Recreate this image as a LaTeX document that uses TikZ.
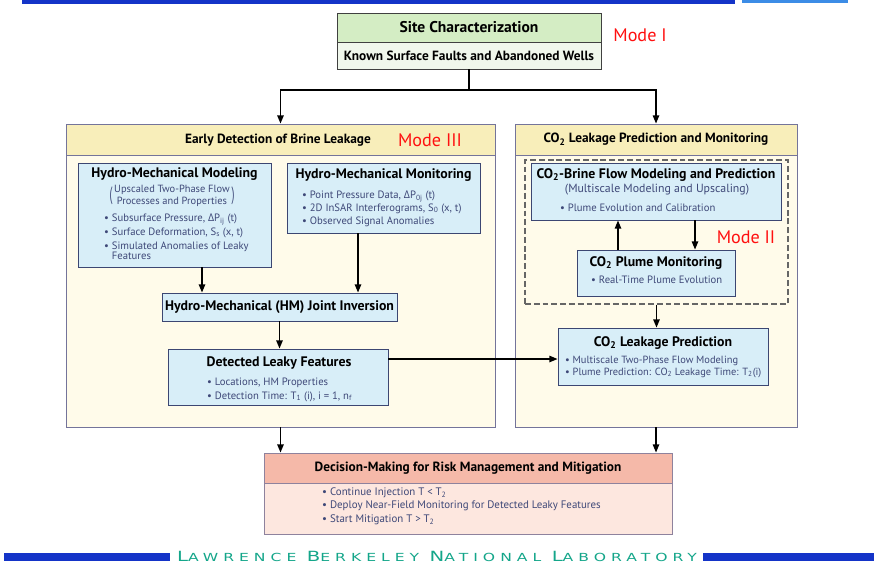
\documentclass[tikz,border=0pt]{standalone}
\usepackage{fontspec}
\setmainfont{PT Sans}
\newfontfamily\grk{Open Sans}
\newfontfamily\labfont[FakeStretch=1.4,LetterSpace=45]{DejaVu Sans}
\usepackage{xcolor}
\usepackage{tikz}
\usetikzlibrary{arrows.meta,positioning,calc}
\definecolor{lbblue}{HTML}{1434C8}
\definecolor{lbsky}{HTML}{3C8CE6}
\definecolor{lbtext}{HTML}{14A68A}
\definecolor{frame}{HTML}{74749A}
\definecolor{inframe}{HTML}{3C4672}
\definecolor{sitehd}{HTML}{D4EDC4}
\definecolor{sitebd}{HTML}{F0F7EC}
\definecolor{bighd}{HTML}{F8EEBA}
\definecolor{bigbd}{HTML}{FFFBEA}
\definecolor{inbg}{HTML}{D8EEF8}
\definecolor{dechd}{HTML}{F5B9A9}
\definecolor{decbd}{HTML}{FDE7DF}
\definecolor{itemc}{HTML}{3E4878}
\definecolor{modec}{HTML}{FF1010}
\tikzset{
  sz/.style 2 args={minimum width=#1*0.03cm, minimum height=#2*0.03cm},
  hdr/.style   ={draw=frame, line width=0.8pt, inner sep=0pt, text=black,
                 font=\fontsize{11.4}{13}\selectfont\bfseries},
  inbox/.style ={draw=inframe, line width=0.8pt, fill=inbg, inner sep=0pt},
  dashbox/.style={draw=black!60, line width=0.9pt, dash pattern=on 5pt off 2.5pt, inner sep=0pt},
  ttl/.style   ={font=\fontsize{11.8}{13}\selectfont\bfseries, text=black, inner sep=0pt},
  sub/.style   ={font=\fontsize{8.9}{9.8}\selectfont, text=itemc, inner sep=0pt, align=center},
  itm/.style   ={font=\fontsize{9.1}{11}\selectfont, text=itemc, inner sep=0pt,
                 align=left, anchor=north west},
  mode/.style  ={font=\fontsize{15.5}{16}\selectfont, text=modec, inner sep=0pt},
  fl/.style    ={draw=black, line width=1.2pt, -{Stealth[length=7pt,width=5.5pt,inset=0pt]}},
  lab/.style   ={font=\labfont, text=lbtext, inner sep=0pt},
}
\newcommand{\labword}[2]{{\fontsize{12}{12}\selectfont#1}{\fontsize{9.5}{10}\selectfont#2}}
\newcommand{\dP}{{\grk Δ}P}
\newcommand{\tallpar}[1]{$\vcenter{\hbox{\scalebox{1}[1.85]{#1}}}$}

\begin{document}
\begin{tikzpicture}[x=0.03cm,y=-0.03cm]
  \useasboundingbox[fill=white] (0,0) rectangle (874,574);
  % laboratory banners
  \fill[lbblue] (22,0) rectangle (735,4);
  \fill[lbsky] (742,0) rectangle (848,3);
  \fill[lbblue] (4,552.5) rectangle (170,560.5);
  \fill[lbblue] (703,552.5) rectangle (874,560.5);
  \node[lab,anchor=base] (lbnl) at (437,561.5) {\labword{L}{AWRENCE} \labword{B}{ERKELEY} \labword{N}{ATIONAL} \labword{L}{ABORATORY}};

  % Mode I
  \node[hdr,sz={264}{29},draw=black!75,fill=sitehd,font=\fontsize{13.3}{14}\selectfont\bfseries] (siteH) at (469,27.5) {Site Characterization};
  \node[hdr,sz={264}{27},draw=black!75,fill=sitebd] (siteB) at (469,55.5) {Known Surface Faults and Abandoned Wells};
  \node[mode] (modeI) at (640,35) {Mode I};

  % big panels
  \node[hdr,sz={429}{272},fill=bigbd] (earlyB) at (280.5,291) {};
  \node[hdr,sz={429}{31},fill=bighd] (earlyH) at (280.5,139.5) {};
  \node[hdr,draw=none,fill=none] (earlyT) at (278,140) {Early Detection of Brine Leakage};
  \node[mode] (modeIII) at (430,140) {Mode III};
  \node[hdr,sz={282}{272},fill=bigbd] (predB) at (656,291) {};
  \node[hdr,sz={282}{31},fill=bighd] (predH) at (656,139.5) {CO\textsubscript{2} Leakage Prediction and Monitoring};

  % Mode III
  \node[inbox,sz={193}{104}] (hmmod) at (174.5,215) {};
  \node[ttl] (hmmodT) at (174.5,174.5) {Hydro-Mechanical Modeling};
  \node[sub] (hmmodP) at (172,196) {\tallpar{(}\,\begin{tabular}{@{}c@{}}Upscaled Two-Phase Flow\\Processes and Properties\end{tabular}\,\tallpar{)}};
  \node[itm,font=\fontsize{9.1}{11.9}\selectfont] (hmmodL) at (104,213.5) {• Subsurface Pressure, \dP\textsubscript{ij} (t)\\
    • Surface Deformation, S\textsubscript{s} (x, t)\\
    • Simulated Anomalies of Leaky\\[-3.4pt]
    \phantom{• }Features};
  \node[inbox,sz={193}{70}] (hmmon) at (383.5,198) {};
  \node[ttl] (hmmonT) at (383.5,175) {Hydro-Mechanical Monitoring};
  \node[itm] (hmmonL) at (302,190.5) {• Point Pressure Data, \dP\textsubscript{0j} (t)\\
    • 2D InSAR Interferograms, S\textsubscript{0} (x, t)\\
    • Observed Signal Anomalies};
  \node[inbox,sz={235}{28}] (joint) at (279.5,307) {};
  \node[ttl] (jointT) at (279.5,307) {Hydro-Mechanical (HM) Joint Inversion};
  \node[inbox,sz={220}{56}] (detect) at (278,377) {};
  \node[ttl] (detectT) at (279,363) {Detected Leaky Features};
  \node[itm,font=\fontsize{9.1}{11.9}\selectfont] (detectL) at (207,377.5) {• Locations, HM Properties\\
    • Detection Time: T\textsubscript{1} (i), i = 1, n\textsubscript{f}};

  % Mode II
  \node[dashbox,sz={263}{144}] (loop) at (656.5,232) {};
  \node[inbox,sz={250}{57}] (flow) at (656,191.5) {};
  \node[ttl] (flowT) at (656,175) {CO\textsubscript{2}-Brine Flow Modeling and Prediction};
  \node[sub,font=\fontsize{10.1}{11}\selectfont] (flowS) at (657,190) {(Multiscale Modeling and Upscaling)};
  \node[itm,anchor=west] (flowL) at (560,208) {• Plume Evolution and Calibration};
  \node[inbox,sz={158}{46}] (plume) at (656,273) {};
  \node[ttl] (plumeT) at (656,263) {CO\textsubscript{2} Plume Monitoring};
  \node[itm,anchor=west] (plumeL) at (591,280) {• Real-Time Plume Evolution};
  \node[mode] (modeII) at (746,237) {Mode II};
  \node[inbox,sz={210}{57}] (leak) at (663,356.5) {};
  \node[ttl] (leakT) at (663,343) {CO\textsubscript{2} Leakage Prediction};
  \node[itm,font=\fontsize{8.9}{10.2}\selectfont] (leakL) at (565,355.5) {• Multiscale Two-Phase Flow Modeling\\
    • Plume Prediction: CO\textsubscript{2} Leakage Time: T\textsubscript{2}(i)};

  % decision
  \node[hdr,sz={408}{51},draw=frame!80!dechd,fill=decbd] (decB) at (468,508.5) {};
  \node[hdr,sz={408}{30},draw=frame!80!dechd,fill=dechd] (decH) at (468,468) {Decision-Making for Risk Management and Mitigation};
  \node[itm,font=\fontsize{9.3}{11.5}\selectfont] (decL) at (322,487.5) {• Continue Injection T < T\textsubscript{2}\\
    • Deploy Near-Field Monitoring for Detected Leaky Features\\
    • Start Mitigation T > T\textsubscript{2}};

  % connectors
  \coordinate (fork) at (469,90);
  \draw[fl] (siteB.south) -- (fork) -| (earlyH.north);
  \draw[fl] (fork) -| (predH.north);
  \coordinate (modout) at ($(hmmod.south)+(27.5,0)$);
  \coordinate (monout) at ($(hmmon.south)+(-25.5,0)$);
  \draw[fl] (modout) -- (modout |- joint.north);
  \draw[fl] (monout) -- (monout |- joint.north);
  \draw[fl] (joint.south) -- (joint.south |- detect.north);
  \coordinate (plumeout) at ($(plume.north)+(-38,0)$);
  \coordinate (flowout) at ($(flow.south)+(39,0)$);
  \draw[fl] (plumeout) -- (plumeout |- flow.south);
  \draw[fl] (flowout) -- (flowout |- plume.north);
  \draw[fl] (loop.south) -- (loop.south |- leak.north);
  \coordinate (detout) at ($(detect.east)+(0,-18)$);
  \draw[fl] (detout) -- (detout -| leak.west);
  \draw[fl] (earlyB.south) -- (earlyB.south |- decH.north);
  \draw[fl] (predB.south) -- (predB.south |- decH.north);
\end{tikzpicture}
\end{document}
